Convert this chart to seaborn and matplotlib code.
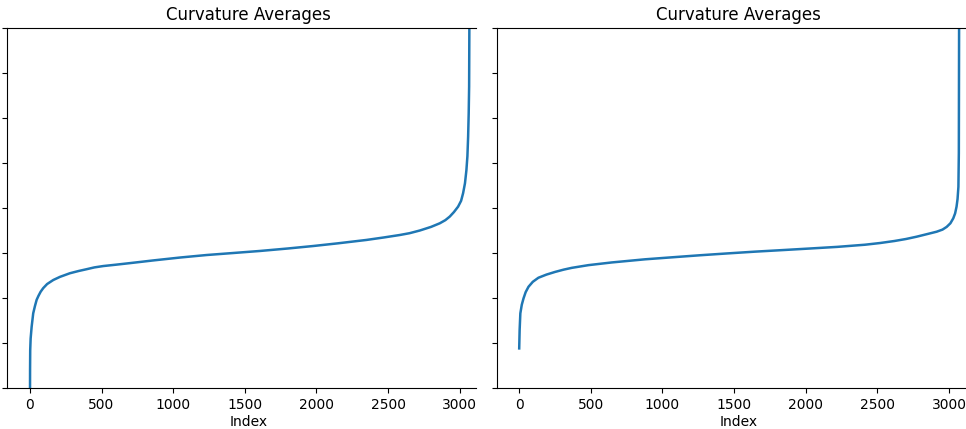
import matplotlib
matplotlib.use('Agg')
import matplotlib.pyplot as plt
import seaborn as sns

# sorted curvature averages (index, value)
left_index = [0, 1, 2, 5, 12, 23, 35, 47, 60, 75, 93, 120, 163, 210, 279, 340,
              396, 450, 512, 600, 698, 780, 861, 1050, 1233, 1420, 1605, 1800, 1977,
              2150, 2349, 2470, 2582, 2650, 2722, 2800, 2861, 2900, 2931, 2960,
              2989, 3010, 3024, 3037, 3047, 3054, 3059, 3063, 3066, 3070]
left_values = [-5.0, -3.6, -3.16, -2.9, -2.64, -2.34, -2.18, -2.04, -1.95, -1.86,
               -1.78, -1.69, -1.60, -1.53, -1.45, -1.40, -1.36, -1.32, -1.29, -1.26,
               -1.225, -1.195, -1.165, -1.10, -1.045, -1.00, -0.955, -0.90, -0.845,
               -0.785, -0.71, -0.655, -0.60, -0.56, -0.50, -0.42, -0.34, -0.27,
               -0.19, -0.09, 0.03, 0.16, 0.33, 0.55, 0.84, 1.15, 1.58, 2.10, 2.70, 6.0]

right_index = [0, 3, 8, 18, 30, 45, 65, 95, 134, 190, 251, 310, 367, 483, 646,
               879, 1070, 1263, 1450, 1646, 1840, 2030, 2220, 2414, 2520, 2620,
               2700, 2774, 2850, 2914, 2955, 2984, 3010, 3030, 3043, 3053, 3060,
               3066, 3069, 3072]
right_values = [-3.12, -2.71, -2.34, -2.15, -2.01, -1.87, -1.75, -1.64, -1.55,
                -1.48, -1.42, -1.37, -1.33, -1.27, -1.21, -1.14, -1.095, -1.05,
                -1.01, -0.97, -0.935, -0.90, -0.864, -0.816, -0.778, -0.733, -0.689,
                -0.638, -0.578, -0.527, -0.48, -0.42, -0.34, -0.23, -0.12, 0.03, 0.20,
                0.47, 1.22, 6.0]

y_ticks = [-4, -3, -2, -1, 0, 1, 2, 3, 4]
x_ticks = [0, 500, 1000, 1500, 2000, 2500, 3000]

fig = plt.figure(figsize=(9.66, 4.29), dpi=100)
ax1 = fig.add_axes([7 / 966, 41 / 429, 469 / 966, 360 / 429])
ax2 = fig.add_axes([497 / 966, 41 / 429, 469 / 966, 360 / 429])

panels = [
    (ax1, left_index, left_values, (-160, 3114)),
    (ax2, right_index, right_values, (-155, 3119)),
]

for ax, idx, vals, xlim in panels:
    sns.lineplot(x=idx, y=vals, ax=ax, color='#1f77b4', linewidth=1.8)
    ax.set_xlim(*xlim)
    ax.set_ylim(-4, 4)
    ax.set_xticks(x_ticks)
    ax.set_yticks(y_ticks)
    ax.tick_params(axis='y', labelleft=False)
    ax.spines['right'].set_visible(False)
    # the screenshot cuts each panel on the right, so centre text on the full width
    ax.set_title('Curvature Averages', x=0.515)
    ax.set_xlabel('Index', x=0.515, labelpad=2)
    ax.set_ylabel('')

fig.savefig('out.png', dpi=100)
